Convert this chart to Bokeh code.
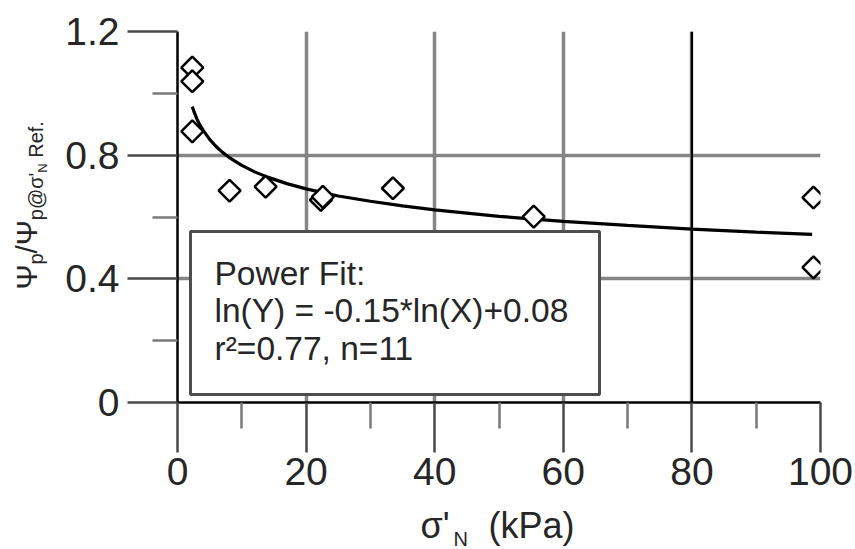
from bokeh.plotting import figure
from bokeh.models import FixedTicker, Span, Label, BoxAnnotation, ColumnDataSource, Range1d
from bokeh.layouts import row, column
from bokeh.embed import file_html
from bokeh.resources import INLINE
import math

# ---- data ----
sigma_n = [2.3, 2.3, 2.3, 8.1, 13.7, 22.3, 22.6, 33.5, 55.4, 98.9, 98.9]
psi_ratio = [1.083, 1.039, 0.877, 0.685, 0.698, 0.655, 0.665, 0.693, 0.601, 0.663, 0.437]

# power-fit curve
fit_x = [2.3, 2.6, 3, 3.5, 4, 5, 6, 7, 8, 10, 12, 14, 17, 20, 25, 30, 35, 40, 50, 60, 70, 80, 90, 98.7]
fit_y = [0.957, 0.939, 0.918, 0.897, 0.880, 0.851, 0.828, 0.809, 0.793, 0.767, 0.746, 0.729,
         0.708, 0.691, 0.668, 0.651, 0.636, 0.623, 0.602, 0.586, 0.573, 0.561, 0.551, 0.544]

x_ticks = [0, 20, 40, 60, 80, 100]
x_tick_labels = ["0", "20", "40", "60", "80", "100"]
x_minor = [10, 30, 50, 70, 90]
y_ticks = [0, 0.4, 0.8, 1.2]
y_tick_labels = ["0", "0.4", "0.8", "1.2"]
y_minor = [0.2, 0.6, 1.0]

fit_lines = ["Power Fit:", "ln(Y) = -0.15*ln(X)+0.08", "r\u00b2=0.77, n=11"]

FONT = "Liberation Sans"
TXT = "#262626"
BASE_FIX = 0.37    # label anchor correction (fraction of font size) for alphabetic baseline

W, H = 855, 549
YL_W = 60          # width of the strip holding the y-axis title
XL_H = 47          # height of the strip holding the x-axis title
MAIN_W = W - YL_W
MAIN_H = H - XL_H
# frame geometry in page px
FL, FR, FT, FB = 177, 820, 31, 402

p = figure(width=MAIN_W, height=MAIN_H, x_range=Range1d(0, 100), y_range=Range1d(0, 1.2),
           output_backend="svg", toolbar_location=None, frame_align=False,
           min_border_left=FL - YL_W, min_border_right=W - FR, min_border_top=FT,
           min_border_bottom=MAIN_H - FB)
p.outline_line_color = None
p.background_fill_color = "white"
p.border_fill_color = "white"

# grids
p.xgrid.ticker = FixedTicker(ticks=x_ticks)
p.ygrid.ticker = FixedTicker(ticks=y_ticks)
for g in (p.xgrid[0], p.ygrid[0]):
    g.grid_line_color = "#858585"
    g.grid_line_width = 3.5
p.add_layout(Span(location=80, dimension="height", line_color="black", line_width=2.2))

# axes
xa = p.xaxis[0]
xa.ticker = FixedTicker(ticks=x_ticks, minor_ticks=x_minor)
xa.major_label_overrides = {t: s for t, s in zip(x_ticks, x_tick_labels)}
xa.major_tick_in = 0
xa.major_tick_out = 50
xa.minor_tick_in = 0
xa.minor_tick_out = 26
xa.major_label_standoff = 5

ya = p.yaxis[0]
ya.ticker = FixedTicker(ticks=y_ticks, minor_ticks=y_minor)
ya.major_label_overrides = {t: s for t, s in zip(y_ticks, y_tick_labels)}
ya.major_tick_in = 0
ya.major_tick_out = 50
ya.minor_tick_in = 0
ya.minor_tick_out = 25
ya.major_label_standoff = 8

for ax in (xa, ya):
    ax.axis_line_color = "black"
    ax.axis_line_width = 2.5
    ax.major_tick_line_color = "#4a4a4a"
    ax.major_tick_line_width = 2.5
    ax.minor_tick_line_color = "#7a7a7a"
    ax.minor_tick_line_width = 2.5
    ax.major_label_text_font = FONT
    ax.major_label_text_font_size = "39px"
    ax.major_label_text_color = TXT

# fit curve and points
p.line(fit_x, fit_y, line_color="black", line_width=3.2)
src = ColumnDataSource(dict(x=sigma_n, y=psi_ratio))
p.scatter("x", "y", source=src, marker="square", angle=math.pi / 4, size=15.5,
          line_color="black", line_width=2.5, fill_color="white")


def lab(fig, text, sx, sy, size, rotated=False):
    if rotated:
        sx -= BASE_FIX * size
    else:
        sy += BASE_FIX * size
    fig.add_layout(Label(x=sx, y=sy, x_units="screen", y_units="screen",
                         text=text, text_font=FONT, text_font_size=f"{size}px",
                         text_color=TXT, text_align="left", text_baseline="alphabetic",
                         angle=math.pi / 2 if rotated else 0.0))


def main_lab(text, cx, cy, size):
    # cx, cy in page px -> screen units relative to the main frame
    lab(p, text, cx - FL, FB - cy, size)


# text box
p.add_layout(BoxAnnotation(left=190 - FL, right=599 - FL, top=FB - 231, bottom=FB - 394,
                           left_units="screen", right_units="screen",
                           top_units="screen", bottom_units="screen",
                           fill_color="white", fill_alpha=1.0,
                           line_color="#4d4d4d", line_width=3, line_alpha=1.0))
for txt, base in zip(fit_lines, [285, 322, 360]):
    main_lab(txt, 214, base, 33.5)


def strip(w, h):
    f = figure(width=w, height=h, output_backend="svg", toolbar_location=None, title=None,
               x_axis_location=None, y_axis_location=None, min_border=0, frame_align=False,
               x_range=Range1d(0, 1), y_range=Range1d(0, 1))
    f.outline_line_color = None
    f.grid.visible = False
    f.background_fill_color = "white"
    f.border_fill_color = "white"
    return f


# y-axis title strip: Ψ_p / Ψ_{p@σ'_N Ref.} (rotated, reads bottom to top)
ystrip = strip(YL_W, MAIN_H)
adv = {"\u03a8": 0.83, "p": 0.556, "/": 0.278, "@": 1.015, "\u03c3": 0.617, "'": 0.191,
       "N": 0.722, " ": 0.278, "R": 0.722, "e": 0.556, "f": 0.278, ".": 0.278}
# (text, font px, baseline shift, gap before)
pieces = [("\u03a8", 30, 0, 0), ("p", 20, 6, 0), ("/", 30, 0, 0), ("\u03a8", 30, 0, 0),
          ("p@\u03c3'", 20, 6, 0), ("N", 13, 10, 0), ("Ref.", 20, 6, 5.5)]
base_x = 37
cy = 289
for txt, size, shift, gap in pieces:
    cy -= gap
    lab(ystrip, txt, base_x + shift, MAIN_H - cy, size, rotated=True)
    cy -= sum(adv.get(c, 0.55) for c in txt) * size

# x-axis title strip: σ'_N (kPa)
xstrip = strip(W, XL_H)
lab(xstrip, "\u03c3'", 420, H - 538, 36)
lab(xstrip, "N", 453, H - 546, 20)
lab(xstrip, "(kPa)", 488, H - 538, 36)

layout = column(row(ystrip, p, spacing=0), xstrip, spacing=0)
open("out.html", "w").write(file_html(layout, INLINE))
